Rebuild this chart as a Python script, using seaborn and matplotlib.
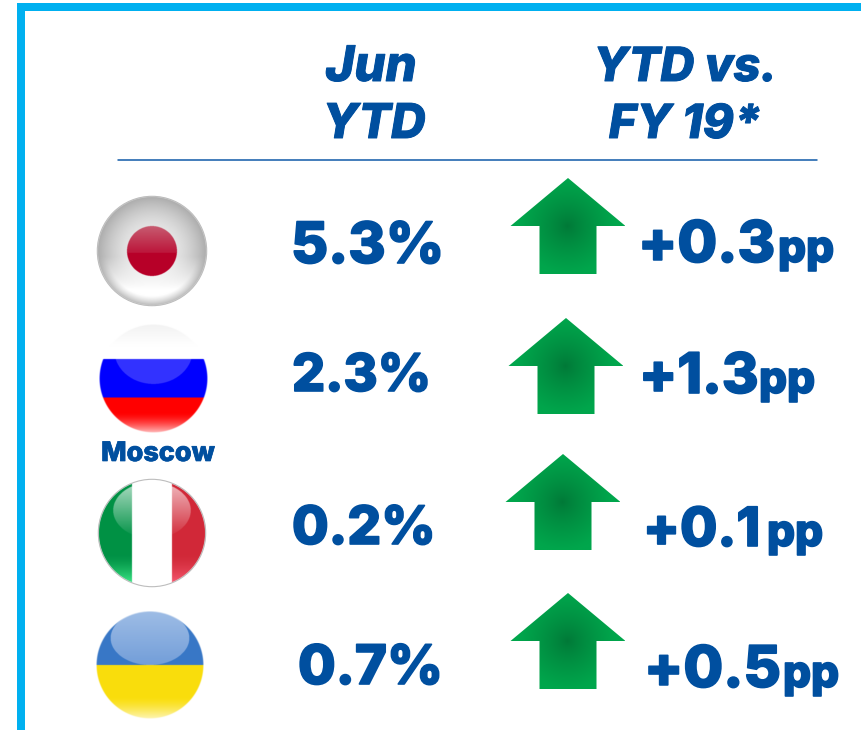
import numpy as np
import pandas as pd
import matplotlib
matplotlib.use("Agg")
import matplotlib.pyplot as plt
import matplotlib.patheffects as pe
from matplotlib.patches import Polygon, Circle
import seaborn as sns

# ---- chart content
countries = ["Japan", "Russia", "Italy", "Ukraine"]
jun_ytd = ["5.3%", "2.3%", "0.2%", "0.7%"]
ytd_vs_fy = ["+0.3", "+1.3", "+0.1", "+0.5"]
unit = "pp"
city_label = "Moscow"
header_1 = ["Jun", "YTD"]
header_2 = ["YTD vs.", "FY 19*"]

# ---- layout (pixels)
W, H = 862, 730
BLUE = "#004F9F"
FRAME = "#00B0F0"
FONT = "Inter"
flag_xy = [(152, 251, 55), (153.5, 379, 54.5), (152, 533, 54), (150, 665, 54)]
val_pos = [(291, 263, 57), (292, 391, 52), (292, 544, 53), (298, 684, 54.5)]
delta_pos = [(638, 262, 57.5), (639, 393, 56), (643, 546, 54), (644, 687, 57.5)]
unit_pos = [(778, 262), (759, 393), (767, 546), (783, 687)]
arrow_pos = [(568, 178), (566, 318), (563, 454), (568, 593)]

sns.set_theme(style="white")
plt.rcParams["font.family"] = [FONT, "DejaVu Sans"]

fig = plt.figure(figsize=(W / 100, H / 100), dpi=100, facecolor="white")
ax = fig.add_axes([0, 0, 1, 1])
ax.set_xlim(0, W)
ax.set_ylim(H, 0)
ax.axis("off")
sns.despine(ax=ax, left=True, bottom=True)

# frame
ax.fill_between([17, W], 3, 11, color=FRAME, lw=0)
ax.fill_between([17, 25], 3, H, color=FRAME, lw=0)

# header rule
rule = pd.DataFrame({"x": [118, 817], "y": [160, 160]})
sns.lineplot(data=rule, x="x", y="y", ax=ax, color="#0F5AA8", lw=1.1)
ax.set_xlim(0, W)
ax.set_ylim(H, 0)
ax.set_xlabel("")
ax.set_ylabel("")


def put(x, y, s, px, ha="left", style="normal", weight=800, stroke=1.2):
    ax.text(x, y, s, fontsize=px * 0.72, ha=ha, va="baseline", color=BLUE,
            fontweight=weight, fontstyle=style,
            path_effects=[pe.withStroke(linewidth=stroke, foreground=BLUE)])


put(371, 81, header_1[0], 49, "center", "italic", stroke=0.7)
put(374, 138, header_1[1], 48, "center", "italic", stroke=0.7)
put(685, 81, header_2[0], 47, "center", "italic", stroke=0.7)
put(685, 138, header_2[1], 47, "center", "italic", stroke=0.7)


def arrow(tx, ty):
    w, hb, sw, h = 57.5, 48, 28.5, 96
    pts = [(tx, ty), (tx + w, ty + hb), (tx + sw, ty + hb), (tx + sw, ty + h),
           (tx - sw, ty + h), (tx - sw, ty + hb), (tx - w, ty + hb)]
    yy, xx = np.mgrid[ty:ty + h:200j, tx - w:tx + w:240j]
    d = np.sqrt((xx - tx) ** 2 + (yy - (ty + hb)) ** 2)
    t = np.clip(d / 48, 0, 1) ** 0.8
    c0, c1 = np.array([0, 120, 55]) / 255, np.array([0, 166, 76]) / 255
    img = c0 + (c1 - c0) * t[..., None]
    im = ax.imshow(img, extent=(tx - w, tx + w, ty + h, ty), aspect="auto", zorder=2)
    p = Polygon(pts, closed=True, transform=ax.transData, fc="none", ec="none")
    ax.add_patch(p)
    im.set_clip_path(p)


def flag(kind, cx, cy, r):
    n = int(r * 8)
    v, u = np.mgrid[-1:1:n * 1j, -1:1:n * 1j]
    rho = np.sqrt(u ** 2 + v ** 2)
    img = np.ones((n, n, 3))
    if kind == "Japan":
        img[:] = [0.93, 0.93, 0.93]
        img *= (0.72 + 0.28 * np.clip(1 - ((rho - 0.1) / 0.9) ** 2, 0, 1))[..., None]
        low = np.clip((v - 0.1) / 0.6, 0, 1) * np.clip((1.02 - rho) / 0.2, 0, 1)
        img += (1 - img) * low[..., None]
        disc = rho < 0.455
        t = np.clip((v + 0.455) / 0.455, 0, 1)[..., None]
        shade = np.array([0.78, 0.36, 0.44]) * (1 - t) + np.array([0.74, 0.1, 0.24]) * t
        img[disc] = shade[disc]
        img[disc & (v >= 0.03)] = [0.72, 0.0, 0.16]
    elif kind == "Russia":
        img[v < -0.36] = [1, 1, 1]
        img[(v >= -0.36) & (v < 0.35)] = [0, 0, 1]
        img[v >= 0.35] = [1, 0, 0]
        gl = (u ** 2 / 0.72 ** 2 + (v + 0.52) ** 2 / 0.62 ** 2) < 1
        img[gl & (v >= -0.36)] = img[gl & (v >= -0.36)] * 0.8 + 0.2
        edge = np.clip((v - 0.62) / 0.38, 0, 1) ** 1.6 * 0.75
        img += (1 - img) * edge[..., None]
        top = np.clip((-v - 0.6) / 0.4, 0, 1) * 0.05
        img -= top[..., None]
    elif kind == "Italy":
        img[u < -0.37] = [0, 0.57, 0.27]
        img[u > 0.37] = [0.82, 0.16, 0.22]
        gl = (u ** 2 / 0.72 ** 2 + (v + 0.42) ** 2 / 0.52 ** 2) < 1
        side = np.abs(u) > 0.37
        fade = np.clip((0.1 - v) / 1.0, 0, 1)[..., None] * 0.65
        img = np.where((gl & side)[..., None], img * (1 - fade) + fade, img)
        low = np.clip((v - 0.4) / 0.55, 0, 1) ** 1.5 * side
        img += (np.array([0.3, 1.0, 0.6]) * (u < 0)[..., None]
                + np.array([1.0, 0.4, 0.5]) * (u > 0)[..., None] - img) * (low * 0.85)[..., None]
    else:
        img[v < 0] = [0.22, 0.47, 0.78]
        img[v >= 0] = [0.98, 0.87, 0.05]
        gl = (u ** 2 / 0.73 ** 2 + (v + 0.5) ** 2 / 0.5 ** 2) < 1
        t = np.clip(-v, 0, 1)[..., None]
        shade = np.array([0.45, 0.62, 0.85]) * (1 - t) + np.array([0.62, 0.74, 0.9]) * t
        img = np.where((gl & (v < 0))[..., None], shade, img)
        low = np.clip((v - 0.6) / 0.4, 0, 1) ** 1.4 * 0.7
        img += (1 - img) * low[..., None]
    a = np.clip((1 - rho) * r, 0, 1)
    rgba = np.dstack([np.clip(img, 0, 1), a])
    ax.imshow(rgba, extent=(cx - r, cx + r, cy + r, cy - r), aspect="auto",
              zorder=2, interpolation="bilinear")
    if kind in ("Japan", "Italy"):
        ax.add_patch(Circle((cx, cy), r - 0.3, fc="none", ec="#bdbdbd", lw=0.8, zorder=3))


for i, name in enumerate(countries):
    flag(name, *flag_xy[i])
    arrow(*arrow_pos[i])
    x, y, px = val_pos[i]
    put(x, y, jun_ytd[i], px)
    x, y, px = delta_pos[i]
    put(x, y, ytd_vs_fy[i], px)
    x, y = unit_pos[i]
    put(x, y, unit, 44)

put(158, 461, city_label, 27, "center", stroke=0.5)

ax.set_xlim(0, W)
ax.set_ylim(H, 0)
fig.savefig("out.png", dpi=100)
